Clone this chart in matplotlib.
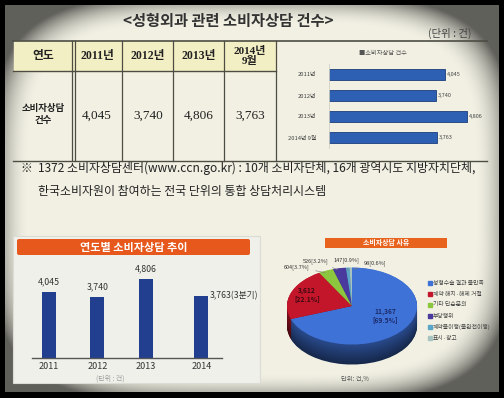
import numpy as np
import matplotlib.pyplot as plt
from matplotlib.patches import Rectangle, FancyBboxPatch

plt.rcParams['font.family'] = ['Noto Sans CJK KR', 'DejaVu Sans']
SERIF = ['Liberation Serif', 'Noto Sans CJK KR']

# data
table_years = ['2011년', '2012년', '2013년', '2014년\n9월']
hbar_labels = ['2011년', '2012년', '2013년', '2014년 9월']
counts = [4045, 3740, 4806, 3763]
trend_years = ['2011', '2012', '2013', '2014']
reasons = ['성형수술 결과 불만족', '계약 해지·해제 거절', '기타 단순문의',
           '부당행위', '계약불이행(불완전이행)', '표시·광고']
reason_counts = [11367, 3612, 604, 526, 147, 98]
reason_colors = ['#3f72d6', '#c4162b', '#8cc63e', '#4a3a9e', '#5aa6c8', '#a8c4c0']

W, H = 504, 398
fig = plt.figure(figsize=(W / 100, H / 100), dpi=100, facecolor='black')


def px_axes(x0, y0, x1, y1):
    return fig.add_axes([x0 / W, 1 - y1 / H, (x1 - x0) / W, (y1 - y0) / H])


# paper background with a soft vignette
bg = fig.add_axes([0, 0, 1, 1])
gx, gy = np.meshgrid(np.linspace(-1, 1, 300), np.linspace(-1, 1, 240))
r = (np.abs(gx) ** 4 + np.abs(gy) ** 4) ** 0.25
shade = 1 - 0.6 * np.clip((r - 0.9) / 0.16, 0, 1) ** 2
paper = np.array([0.949, 0.945, 0.894])
bg.imshow(shade[..., None] * paper, extent=(5, 499, 392, 5),
          interpolation='bilinear', aspect='auto', zorder=0)
bg.set_xlim(0, W)
bg.set_ylim(H, 0)
bg.axis('off')

# title
bg.text(228, 21, '<성형외과 관련 소비자상담 건수>', fontsize=11, fontweight='bold',
        color='#333333', ha='center', va='center')
bg.text(472, 33, '(단위 : 건)', fontsize=7.5, color='#444444', ha='right', va='center')

# table
line_c = '#4d4d44'
bg.add_patch(Rectangle((14, 41), 262, 30, color='#f3efc4', zorder=1))
bg.plot([13, 487], [41, 41], color=line_c, lw=1.2, zorder=2)
bg.plot([13, 276], [71, 71], color=line_c, lw=1.0, zorder=2)
bg.plot([13, 487], [161, 161], color=line_c, lw=1.0, zorder=2)
for x in [72, 74.5, 122, 173, 224, 276]:
    bg.plot([x, x], [41, 161], color=line_c, lw=0.9, zorder=2)

bg.text(43, 56, '연도', fontsize=8.5, fontweight='bold', color='#222222',
        ha='center', va='center')
bg.text(43, 114, '소비자상담\n건수', fontsize=6.8, fontweight='bold', color='#222222',
        ha='center', va='center', linespacing=1.3)
col_centers = [97, 148, 199, 250]
for cx, yl, v in zip(col_centers, table_years, counts):
    bg.text(cx, 56, yl, fontsize=8.5 if '\n' not in yl else 8, family=SERIF,
            fontweight='bold', color='#222222', ha='center', va='center', linespacing=1.05)
    bg.text(cx, 116, f'{v:,}', fontsize=9.5, family=SERIF, color='#222222',
            ha='center', va='center')

# small horizontal bar chart inside the table
axh = px_axes(329, 64, 472.6, 148)
axh.set_facecolor('none')
yy = np.arange(len(counts))
axh.barh(yy, counts, height=0.53, color='#2d5fb3', edgecolor='#1b3d7a', linewidth=0.6)
for yi, v in zip(yy, counts):
    axh.text(v + 60, yi, f'{v:,}', fontsize=4, color='#444444', va='center')
axh.set_xlim(0, 5000)
axh.set_ylim(3.5, -0.5)
axh.set_yticks(yy)
axh.set_yticklabels(hbar_labels, fontsize=4.2, color='#444444')
axh.tick_params(axis='y', length=0, pad=9)
axh.set_xticks([])
for s in ['top', 'right', 'bottom']:
    axh.spines[s].set_visible(False)
axh.spines['left'].set_color('#d0d0c8')
axh.spines['left'].set_linewidth(0.6)
bg.text(383, 53, '■소비자상담 건수', fontsize=4.5, color='#555555', style='italic',
        ha='center', va='center')

# footnote
bg.text(20, 168, '※', fontsize=8.5, color='#222222', va='center')
bg.text(38, 168, '1372 소비자상담센터(www.ccn.go.kr) : 10개 소비자단체, 16개 광역시도 지방자치단체,',
        fontsize=8.6, color='#222222', va='center')
bg.text(38, 192, '한국소비자원이 참여하는 전국 단위의 통합 상담처리시스템',
        fontsize=8.6, color='#222222', va='center')

# lower left panel
bg.add_patch(Rectangle((13, 236), 247, 147, facecolor='#f0f0eb', edgecolor='#dcdcd4',
                       lw=0.8, zorder=1))
bg.add_patch(FancyBboxPatch((17, 239), 233, 16, boxstyle='round,pad=0,rounding_size=2',
                            facecolor='#e6581c', edgecolor='none', zorder=2))
bg.text(134, 247.5, '연도별 소비자상담 추이', fontsize=8, fontweight='bold', color='white',
        ha='center', va='center', zorder=3)

bar_x = np.array([0, 1, 2, 3.15])
axb = px_axes(32, 262, 222, 358)
axb.set_facecolor('none')
axb.bar(bar_x, counts, width=0.29, color='#223f8f')
axb.set_xlim(-0.351, 3.574)
axb.set_ylim(0, 5840)
for xi, v in zip(bar_x[:3], counts[:3]):
    axb.text(xi, v + 330, f'{v:,}', fontsize=6.3, color='#333333', ha='center', va='bottom')
axb.text(bar_x[3] + 0.17, counts[3], f'{counts[3]:,}(3분기)', fontsize=6.3,
         color='#333333', ha='left', va='center')
axb.set_xticks(bar_x)
axb.set_xticklabels(trend_years, fontsize=6.5, color='#333333')
axb.tick_params(axis='x', length=0, pad=3)
axb.set_yticks([])
for s in ['top', 'right', 'left']:
    axb.spines[s].set_visible(False)
axb.spines['bottom'].set_color('#555555')
axb.spines['bottom'].set_linewidth(1.0)
bg.text(110, 379, '(단위 : 건)', fontsize=5, color='#9a9a9a', ha='center', va='center')

# pie chart (3D look)
bg.add_patch(Rectangle((325, 238), 122, 9.5, facecolor='#e8641e', edgecolor='none', zorder=2))
bg.text(386, 243, '소비자상담 사유', fontsize=5, fontweight='bold', color='white',
        ha='center', va='center', zorder=3)

axp = px_axes(279.5, 250, 424.5, 380)
axp.set_facecolor('none')
depth = 0.52
base = np.array([plt.matplotlib.colors.to_rgb(c) for c in reason_colors])
for k, dz in enumerate(np.linspace(depth, 0.01, 26)):
    f = 0.35 + 0.3 * k / 25
    axp.pie(reason_counts, colors=[tuple(c * f) for c in base], startangle=90,
            counterclock=False, center=(0, -dz), wedgeprops=dict(linewidth=0))
axp.pie(reason_counts, colors=reason_colors, startangle=90, counterclock=False,
        wedgeprops=dict(linewidth=0))
axp.set_aspect('auto')
axp.set_xlim(-1.115, 1.115)
axp.set_ylim(-1.922, 1.4545)
axp.axis('off')

total = sum(reason_counts)
pct = [v / total * 100 for v in reason_counts]
axp.text(0.51, -0.25, f'{reason_counts[0]:,}\n[{pct[0]:.1f}%]', fontsize=4.8,
         fontweight='bold', color='#1a2a6a', ha='center', va='center', linespacing=1.2)
axp.text(-0.69, 0.3, f'{reason_counts[1]:,}\n[{pct[1]:.1f}%]', fontsize=4.8,
         fontweight='bold', color='#3a0a10', ha='center', va='center', linespacing=1.2)

cum = np.cumsum([0] + reason_counts)
label_pos = [(-0.646, 1.013, 'right'), (-0.55, 1.17, 'center'),
             (-0.09, 1.19, 'center'), (0.18, 1.12, 'left')]
for i, (tx, ty, ha) in zip(range(2, 6), label_pos):
    th = np.deg2rad(90 - (cum[i] + reason_counts[i] / 2) / total * 360)
    axp.annotate(f'{reason_counts[i]}[{pct[i]:.1f}%]', xy=(0.93 * np.cos(th), 0.93 * np.sin(th)),
                 xytext=(tx, ty), fontsize=4, color='#333333', ha=ha, va='center',
                 arrowprops=dict(arrowstyle='-', color='#777777', lw=0.4))

for i, (name, c) in enumerate(zip(reasons, reason_colors)):
    y = 283 + i * 11
    bg.add_patch(Rectangle((428, y - 1.8), 3.6, 3.6, color=c, zorder=3))
    bg.text(433, y, name, fontsize=4.2, color='#444444', va='center', zorder=3)
bg.text(355, 379, '단위: 건,%', fontsize=4.5, color='#555555', ha='center', va='center')

fig.savefig('out.png', dpi=100, facecolor='black')
